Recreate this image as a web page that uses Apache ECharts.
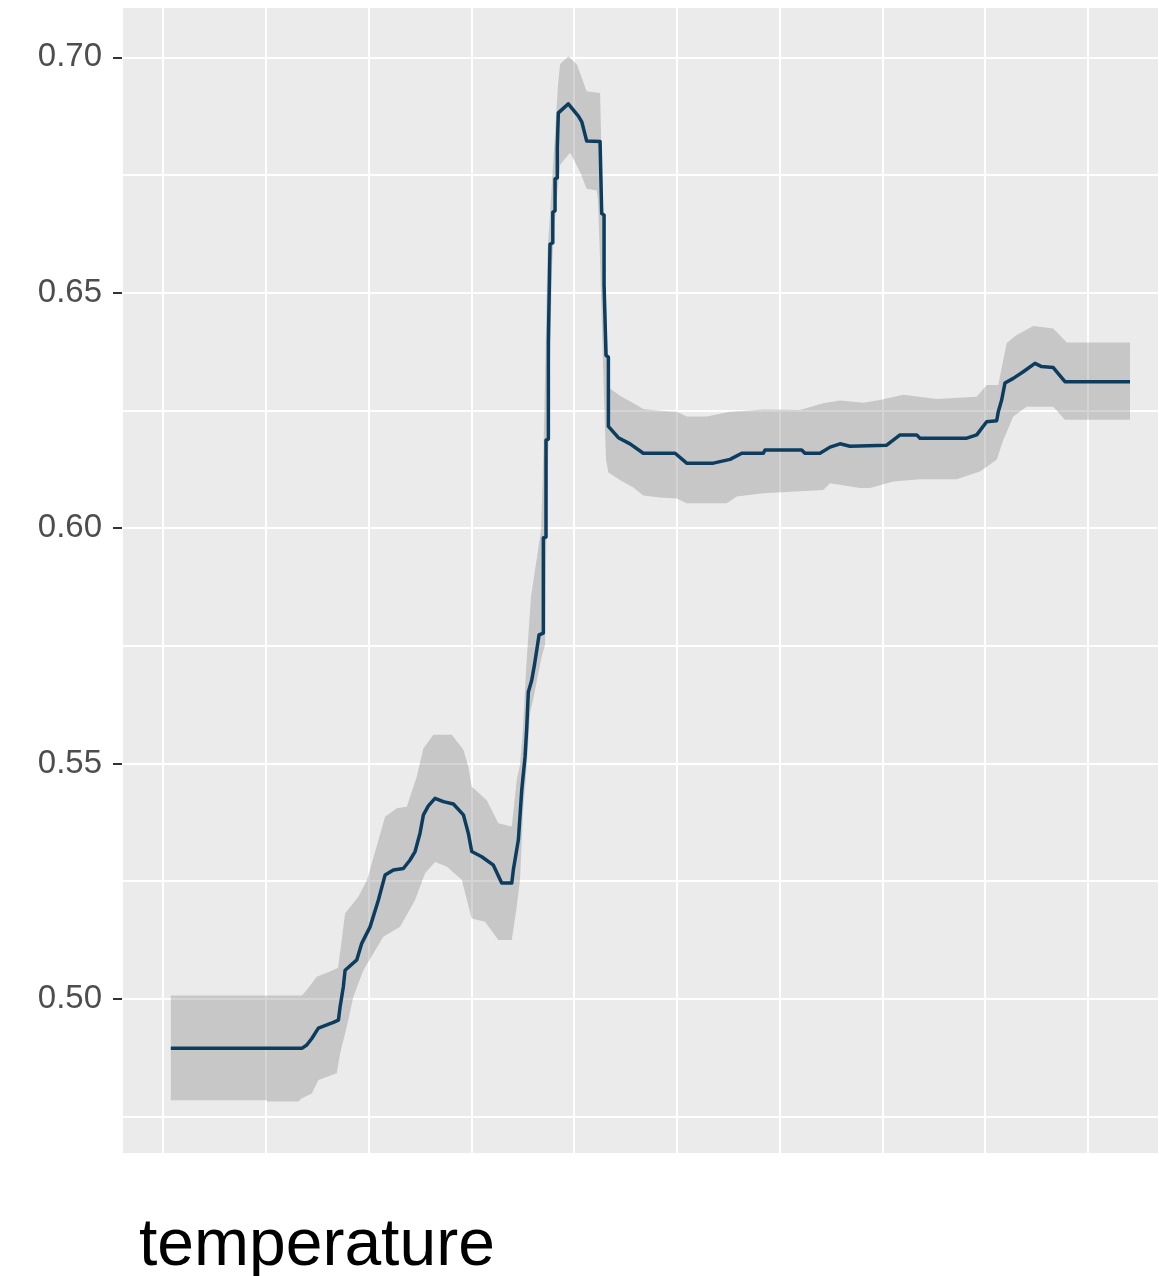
<!DOCTYPE html>
<html>
<head>
<meta charset="utf-8">
<title>Partial dependence: temperature</title>
<script src="https://cdn.jsdelivr.net/npm/echarts@6/dist/echarts.min.js"></script>
<style>
  html, body { margin: 0; padding: 0; background: #ffffff; }
  #chart { width: 1159px; height: 1276px; }
</style>
</head>
<body>
<div id="chart"></div>
<script>
// Partial dependence of the predicted value on temperature (x in grid-step units).
const pdpLine = [
  [0.075, 0.4895], [1.350, 0.4895], [1.398, 0.4902], [1.447, 0.4916], [1.511, 0.4938],
  [1.657, 0.4950], [1.706, 0.4955], [1.722, 0.4983], [1.754, 0.5026], [1.771, 0.5061],
  [1.885, 0.5083], [1.933, 0.5118], [2.014, 0.5153], [2.095, 0.5210], [2.160, 0.5263],
  [2.241, 0.5274], [2.338, 0.5277], [2.403, 0.5295], [2.452, 0.5313], [2.500, 0.5352],
  [2.533, 0.5391], [2.581, 0.5410], [2.646, 0.5426], [2.727, 0.5419], [2.825, 0.5414],
  [2.922, 0.5391], [2.970, 0.5352], [3.003, 0.5313], [3.101, 0.5302], [3.214, 0.5284],
  [3.295, 0.5246], [3.393, 0.5246], [3.408, 0.5274], [3.457, 0.5338], [3.490, 0.5444],
  [3.522, 0.5514], [3.539, 0.5578], [3.554, 0.5652], [3.587, 0.5677], [3.613, 0.5709],
  [3.636, 0.5741], [3.658, 0.5773], [3.700, 0.5777], [3.700, 0.5979], [3.726, 0.5981],
  [3.726, 0.6187], [3.749, 0.6189], [3.749, 0.6395], [3.765, 0.6397], [3.765, 0.6603],
  [3.792, 0.6606], [3.792, 0.6671], [3.814, 0.6674], [3.814, 0.6742], [3.836, 0.6744],
  [3.836, 0.6809], [3.846, 0.6812], [3.846, 0.6882], [3.943, 0.6901], [4.041, 0.6875],
  [4.074, 0.6863], [4.122, 0.6822], [4.252, 0.6821], [4.268, 0.6668], [4.291, 0.6665],
  [4.291, 0.6517], [4.310, 0.6514], [4.310, 0.6367], [4.333, 0.6363], [4.333, 0.6216],
  [4.430, 0.6192], [4.544, 0.6179], [4.673, 0.6159], [4.982, 0.6159], [5.095, 0.6138],
  [5.354, 0.6138], [5.517, 0.6146], [5.631, 0.6159], [5.841, 0.6159], [5.857, 0.6166],
  [6.214, 0.6166], [6.246, 0.6159], [6.392, 0.6159], [6.490, 0.6172], [6.587, 0.6179],
  [6.684, 0.6174], [7.041, 0.6176], [7.171, 0.6198], [7.333, 0.6198], [7.365, 0.6191],
  [7.820, 0.6191], [7.917, 0.6198], [8.014, 0.6226], [8.111, 0.6228], [8.127, 0.6247],
  [8.160, 0.6272], [8.192, 0.6308], [8.273, 0.6318], [8.370, 0.6332], [8.484, 0.6350],
  [8.549, 0.6343], [8.662, 0.6341], [8.776, 0.6311], [9.409, 0.6311]
];

// Upper edge of the confidence band, left to right.
const ribbonUpper = [
  [0.075, 0.5007], [1.350, 0.5007], [1.398, 0.5019], [1.495, 0.5047], [1.625, 0.5058],
  [1.703, 0.5066], [1.771, 0.5182], [1.900, 0.5217], [1.985, 0.5253], [2.160, 0.5387],
  [2.274, 0.5405], [2.371, 0.5408], [2.468, 0.5472], [2.533, 0.5532], [2.630, 0.5561],
  [2.809, 0.5561], [2.922, 0.5529], [2.970, 0.5493], [3.003, 0.5451], [3.149, 0.5422],
  [3.262, 0.5373], [3.393, 0.5366], [3.441, 0.5465], [3.473, 0.5497], [3.498, 0.5561],
  [3.517, 0.5635], [3.532, 0.5699], [3.551, 0.5762], [3.580, 0.5854], [3.678, 0.5996],
  [3.702, 0.6166], [3.722, 0.6378], [3.741, 0.6591], [3.765, 0.6665], [3.785, 0.6739],
  [3.804, 0.6803], [3.824, 0.6877], [3.843, 0.6941], [3.863, 0.6985], [3.943, 0.7002],
  [4.025, 0.6985], [4.122, 0.6928], [4.252, 0.6924], [4.276, 0.6697], [4.300, 0.6527],
  [4.325, 0.6378], [4.339, 0.6298], [4.446, 0.6281], [4.576, 0.6265], [4.673, 0.6253],
  [4.836, 0.6249], [4.998, 0.6247], [5.095, 0.6237], [5.290, 0.6237], [5.517, 0.6247],
  [5.841, 0.6252], [6.198, 0.6251], [6.424, 0.6265], [6.587, 0.6271], [6.814, 0.6266],
  [6.976, 0.6272], [7.203, 0.6283], [7.528, 0.6274], [7.917, 0.6279], [8.014, 0.6304],
  [8.127, 0.6304], [8.209, 0.6393], [8.306, 0.6410], [8.468, 0.6429], [8.662, 0.6424],
  [8.793, 0.6394], [9.409, 0.6394]
];

// Lower edge of the confidence band, left to right.
const ribbonLower = [
  [0.075, 0.4785], [1.009, 0.4785], [1.009, 0.4782], [1.316, 0.4782], [1.350, 0.4789],
  [1.447, 0.4799], [1.511, 0.4828], [1.690, 0.4842], [1.722, 0.4884], [1.787, 0.4941],
  [1.852, 0.5005], [1.949, 0.5061], [2.143, 0.5132], [2.306, 0.5153], [2.452, 0.5210],
  [2.549, 0.5267], [2.646, 0.5291], [2.760, 0.5281], [2.906, 0.5253], [3.003, 0.5171],
  [3.133, 0.5164], [3.262, 0.5125], [3.393, 0.5125], [3.441, 0.5196], [3.473, 0.5253],
  [3.503, 0.5401], [3.532, 0.5476], [3.551, 0.5539], [3.571, 0.5609], [3.600, 0.5635],
  [3.629, 0.5667], [3.658, 0.5699], [3.687, 0.5730], [3.717, 0.5752], [3.726, 0.5932],
  [3.746, 0.6145], [3.765, 0.6357], [3.785, 0.6559], [3.804, 0.6629], [3.829, 0.6697],
  [3.863, 0.6772], [3.960, 0.6797], [4.057, 0.6757], [4.122, 0.6721], [4.220, 0.6717],
  [4.232, 0.6697], [4.252, 0.6569], [4.271, 0.6421], [4.291, 0.6272], [4.310, 0.6145],
  [4.333, 0.6118], [4.446, 0.6102], [4.576, 0.6086], [4.673, 0.6069], [4.836, 0.6065],
  [4.998, 0.6063], [5.095, 0.6053], [5.485, 0.6053], [5.582, 0.6067], [5.841, 0.6074],
  [6.424, 0.6081], [6.490, 0.6095], [6.782, 0.6085], [6.879, 0.6085], [7.105, 0.6099],
  [7.365, 0.6104], [7.722, 0.6104], [7.949, 0.6120], [8.111, 0.6145], [8.176, 0.6187],
  [8.273, 0.6237], [8.403, 0.6258], [8.662, 0.6258], [8.776, 0.6230], [9.409, 0.6230]
];

const yTicks = [0.50, 0.55, 0.60, 0.65, 0.70];
const xRange = [-0.4, 9.691];
const yRange = [0.46727, 0.71047];

const chart = echarts.init(document.getElementById('chart'), null, { renderer: 'canvas' });

chart.setOption({
  animation: false,
  backgroundColor: '#ffffff',
  title: {
    text: 'temperature',
    left: 134,
    top: 1209,
    textStyle: {
      fontFamily: 'Liberation Sans, Arial, sans-serif',
      fontSize: 66,
      fontWeight: 'normal',
      color: '#000000'
    }
  },
  grid: {
    left: 122,
    right: 0,
    top: 8,
    bottom: 123,
    show: true,
    backgroundColor: '#ebebeb',
    borderWidth: 0
  },
  xAxis: {
    type: 'value',
    min: xRange[0],
    max: xRange[1],
    splitNumber: 10,
    axisLine: { show: false, onZero: false },
    axisTick: { show: false },
    axisLabel: { show: false },
    splitLine: { show: true, lineStyle: { color: '#ffffff', width: 2 } }
  },
  yAxis: {
    type: 'value',
    min: yRange[0],
    max: yRange[1],
    splitNumber: 5,
    axisLine: { show: false, onZero: false },
    axisTick: {
      show: true,
      length: 9,
      customValues: yTicks,
      lineStyle: { color: '#333333', width: 2 }
    },
    axisLabel: {
      show: true,
      customValues: yTicks,
      margin: 20,
      color: '#4d4d4d',
      fontSize: 33,
      fontFamily: 'Liberation Sans, Arial, sans-serif',
      formatter: v => v.toFixed(2)
    },
    splitLine: { show: true, lineStyle: { color: '#ffffff', width: 2 } },
    minorTick: { show: false, splitNumber: 2 },
    minorSplitLine: { show: true, lineStyle: { color: '#ffffff', width: 2 } }
  },
  series: [
    {
      name: 'band',
      type: 'custom',
      coordinateSystem: 'cartesian2d',
      silent: true,
      z: 2,
      data: [[ribbonUpper[0][0], ribbonUpper[0][1]]],
      renderItem: function (params, api) {
        const pts = [];
        for (let i = 0; i < ribbonUpper.length; i++) pts.push(api.coord(ribbonUpper[i]));
        for (let i = ribbonLower.length - 1; i >= 0; i--) pts.push(api.coord(ribbonLower[i]));
        return {
          type: 'polygon',
          shape: { points: pts },
          style: { fill: 'rgba(128,128,128,0.34)', stroke: null }
        };
      }
    },
    {
      name: 'pdp',
      type: 'line',
      z: 3,
      data: pdpLine,
      showSymbol: false,
      symbol: 'none',
      silent: true,
      lineStyle: { color: '#0d3d5e', width: 3.5, join: 'round' }
    }
  ]
});
</script>
</body>
</html>
